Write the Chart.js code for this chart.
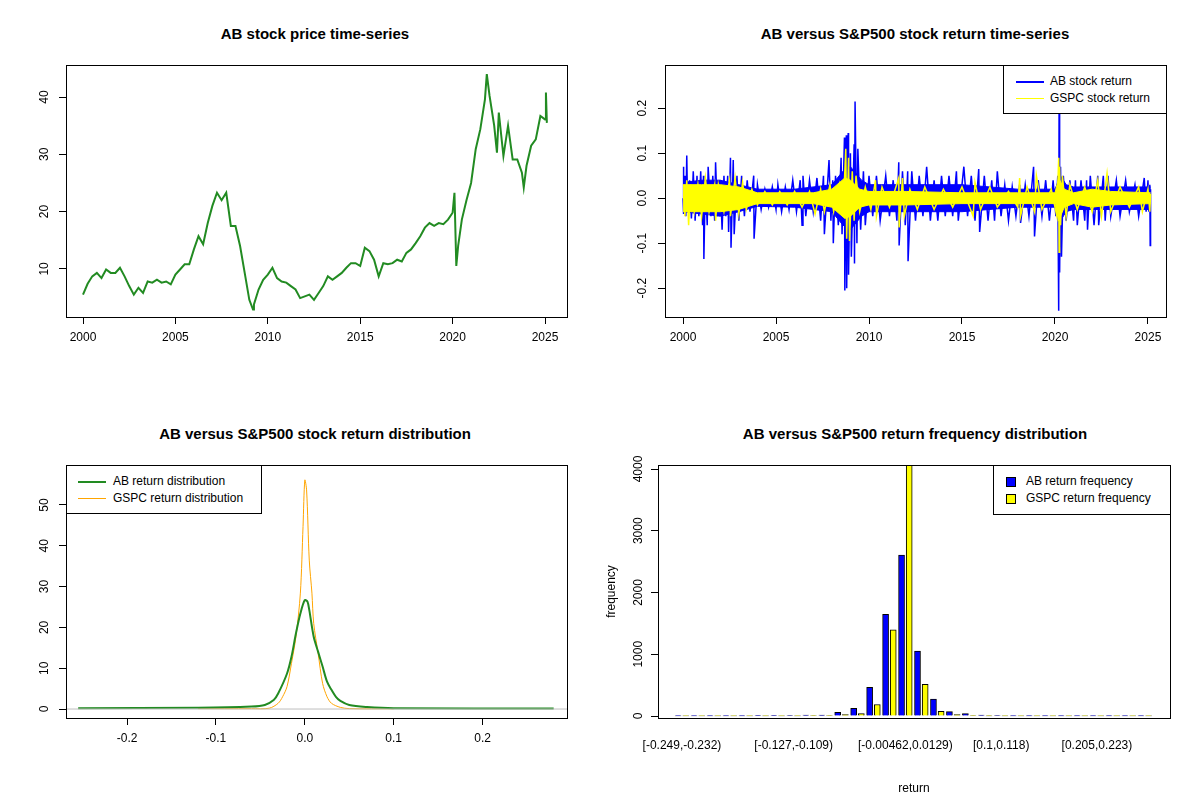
<!DOCTYPE html>
<html>
<head>
<meta charset="utf-8">
<script src="https://cdn.jsdelivr.net/npm/chart.js@4"></script>
<style>
  body { margin: 0; width: 1200px; height: 800px; background: #fff; position: relative; overflow: hidden;
         font-family: 'Liberation Sans', Arial, sans-serif; }
  canvas { position: absolute; }
  .title { position: absolute; font-weight: bold; font-size: 15px; text-align: center; width: 600px; }
  .legend { position: absolute; border: 1px solid #000; background: #fff; font-size: 12px; box-sizing: border-box; }
  .legend div { position: absolute; white-space: nowrap; }
  .sw { position: absolute; }
</style>
</head>
<body>
<div class="title" style="left:15px;top:25px">AB stock price time-series</div>
<div class="title" style="left:615px;top:25px">AB versus S&amp;P500 stock return time-series</div>
<div class="title" style="left:15px;top:425px">AB versus S&amp;P500 stock return distribution</div>
<div class="title" style="left:615px;top:425px">AB versus S&amp;P500 return frequency distribution</div>

<canvas id="c1" style="left:0;top:45px" width="600" height="320"></canvas>
<canvas id="c2" style="left:600px;top:45px" width="600" height="320"></canvas>
<canvas id="c3" style="left:0;top:445px" width="600" height="320"></canvas>
<canvas id="c4" style="left:600px;top:445px" width="600" height="355"></canvas>

<div class="legend" style="left:1003px;top:65px;width:164px;height:49px">
  <span class="sw" style="left:12px;top:15px;width:28px;height:2px;background:#0000ff"></span>
  <div style="left:46px;top:8px">AB stock return</div>
  <span class="sw" style="left:12px;top:32px;width:28px;height:1px;background:#ffff00"></span>
  <div style="left:46px;top:25px">GSPC stock return</div>
</div>
<div class="legend" style="left:66px;top:465px;width:196px;height:49px">
  <span class="sw" style="left:11px;top:15px;width:28px;height:2px;background:#228b22"></span>
  <div style="left:46px;top:8px">AB return distribution</div>
  <span class="sw" style="left:11px;top:32px;width:28px;height:1px;background:#ffa500"></span>
  <div style="left:46px;top:25px">GSPC return distribution</div>
</div>
<div class="legend" style="left:993px;top:465px;width:178px;height:50px">
  <span class="sw" style="left:12px;top:11px;width:8px;height:8px;background:#0000ff;border:1px solid #000"></span>
  <div style="left:32px;top:8px">AB return frequency</div>
  <span class="sw" style="left:12px;top:28px;width:8px;height:8px;background:#ffff00;border:1px solid #000"></span>
  <div style="left:32px;top:25px">GSPC return frequency</div>
</div>

<script>
'use strict';

// ─── Datos ────────────────────────────────────────────────────────────────────

const priceYears = [2000,2000.25,2000.5,2000.75,2001,2001.25,2001.5,2001.75,2002,2002.25,2002.5,2002.75,
  2003,2003.25,2003.5,2003.75,2004,2004.25,2004.5,2004.75,2005,2005.25,2005.5,2005.75,2006,2006.25,2006.5,
  2006.75,2007,2007.25,2007.5,2007.75,2008,2008.25,2008.5,2008.75,2009,2009.2,2009.25,2009.5,2009.75,2010,
  2010.25,2010.5,2010.75,2011,2011.25,2011.5,2011.75,2012,2012.25,2012.5,2012.75,2013,2013.25,2013.5,2013.75,
  2014,2014.25,2014.5,2014.75,2015,2015.25,2015.5,2015.75,2016,2016.25,2016.5,2016.75,2017,2017.25,2017.5,
  2017.75,2018,2018.25,2018.5,2018.75,2019,2019.25,2019.5,2019.75,2020,2020.1,2020.2,2020.3,2020.5,2020.75,
  2021,2021.25,2021.5,2021.75,2021.85,2022,2022.25,2022.4,2022.5,2022.75,2023,2023.25,2023.5,2023.75,
  2023.85,2024,2024.25,2024.5,2024.75,2025,2025.05,2025.1];
const priceValues = [5.5,7.4,8.7,9.3,8.4,9.9,9.3,9.3,10.2,8.7,7.0,5.5,
  6.7,5.8,7.8,7.6,8.1,7.6,7.8,7.3,9.0,9.9,10.8,10.8,13.4,15.7,14.3,
  18.0,21.0,23.3,22.0,23.3,17.5,17.5,14.0,9.3,4.6,2.9,3.8,6.4,8.1,9.0,
  10.2,8.4,7.8,7.6,7.0,6.4,4.9,5.2,5.5,4.6,5.8,7.0,8.7,8.1,8.7,
  9.3,10.2,11.0,11.0,10.5,13.7,13.1,11.6,8.7,11.0,10.8,11.0,11.6,11.3,12.8,
  13.4,14.5,15.7,17.2,18.0,17.5,18.0,17.8,18.6,19.8,23.3,10.5,14.0,18.6,22.0,
  25.0,30.9,34.4,39.6,44.0,40.2,35.0,30.3,37.3,29.7,35.0,29.1,29.1,26.8,
  24.2,28.0,31.5,32.6,36.7,36.1,40.8,35.5];

const abDates = [2000,2000.02,2000.04,2000.1,2000.15,2000.2,2000.25,2000.35,2000.45,2000.55,2000.65,2000.75,
  2000.85,2000.95,2001.05,2001.1,2001.12,2001.2,2001.3,2001.35,2001.5,2001.6,2001.7,2001.75,2001.85,2002,
  2002.1,2002.2,2002.3,2002.4,2002.45,2002.55,2002.58,2002.7,2002.75,2002.9,2003,2003.15,2003.3,2003.45,
  2003.6,2003.8,2003.82,2004,2004.2,2004.4,2004.6,2004.8,2005,2005.1,2005.3,2005.5,2005.7,2005.9,2006.1,
  2006.3,2006.4,2006.45,2006.6,2006.8,2007,2007.2,2007.4,2007.55,2007.6,2007.85,2007.95,2008.05,2008.08,
  2008.2,2008.35,2008.5,2008.55,2008.68,2008.7,2008.78,2008.8,2008.88,2008.9,2009,2009.05,2009.2,2009.22,
  2009.25,2009.35,2009.4,2009.55,2009.7,2009.8,2010,2010.2,2010.4,2010.6,2010.9,2011.1,2011.3,2011.5,
  2011.6,2011.62,2011.8,2011.95,2012.08,2012.1,2012.3,2012.5,2012.7,2012.9,2013.1,2013.3,2013.5,2013.7,
  2013.9,2014.1,2014.3,2014.5,2014.7,2014.8,2015.1,2015.3,2015.5,2015.7,2015.9,2015.95,2016.2,2016.4,
  2016.6,2016.75,2016.9,2017.1,2017.3,2017.5,2017.7,2017.9,2018.1,2018.15,2018.4,2018.6,2018.85,2018.9,
  2019.1,2019.3,2019.5,2019.7,2019.9,2020.05,2020.15,2020.2,2020.22,2020.25,2020.3,2020.35,2020.45,2020.6,
  2020.8,2021,2021.1,2021.2,2021.4,2021.6,2021.7,2021.75,2021.9,2022.1,2022.3,2022.35,2022.6,2022.7,
  2022.85,2023,2023.3,2023.5,2023.8,2024,2024.3,2024.5,2024.8,2024.9,2025,2025.05,2025.1,2025.12,2025.14];
const abReturns = [0,0.07,-0.035,0.05,-0.04,0.095,-0.03,0.04,-0.045,0.06,-0.05,0.05,
  -0.04,0.06,-0.06,0.05,-0.135,0.04,-0.06,0.07,-0.04,0.05,-0.05,0.08,-0.04,0.04,
  -0.07,0.05,-0.04,0.05,-0.075,0.09,-0.11,0.085,-0.08,0.05,-0.05,0.05,-0.04,0.04,
  -0.03,0.05,-0.09,0.03,-0.025,0.02,-0.02,0.025,-0.025,0.03,-0.03,0.025,-0.025,0.04,-0.03,
  0.04,-0.06,0.05,-0.04,0.04,-0.03,0.045,-0.05,0.05,-0.08,0.085,-0.05,0.04,-0.1,
  0.05,-0.06,0.09,-0.08,0.135,-0.205,0.14,-0.2,0.145,-0.17,0.1,-0.13,0.12,-0.145,
  0.215,-0.1,0.11,-0.07,0.06,-0.06,0.05,-0.04,0.05,-0.05,0.05,-0.04,0.04,-0.05,
  0.08,-0.105,0.06,-0.06,0.06,-0.14,0.06,-0.05,0.05,-0.04,0.07,-0.05,0.04,-0.05,
  0.05,-0.04,0.05,-0.04,0.06,-0.05,0.07,-0.04,0.05,-0.05,0.065,-0.075,0.05,-0.05,
  0.04,-0.05,0.06,-0.04,0.03,-0.05,0.025,-0.04,0.03,-0.055,0.03,-0.04,0.07,-0.085,
  0.04,-0.04,0.04,-0.05,0.04,-0.04,0.05,-0.25,0.19,-0.165,0.07,-0.13,0.05,-0.05,
  0.04,-0.05,0.04,-0.06,0.04,-0.05,0.04,-0.07,0.05,-0.06,0.05,-0.06,0.05,-0.05,
  0.05,-0.04,0.04,-0.04,0.04,-0.03,0.03,-0.04,0.045,-0.03,0.04,-0.03,0.03,-0.105,0.02];
// envolvente densa de la banda AB
const abBandDates = [2000,2001,2002,2003,2004,2006,2008,2008.6,2009,2009.6,2010,2012,2015,2018,2020,2020.3,
  2020.6,2021,2023,2025.14];
const abBandUpper = [0.035,0.04,0.04,0.03,0.02,0.02,0.03,0.06,0.07,0.04,0.03,0.03,0.03,0.02,0.02,0.05,
  0.03,0.025,0.025,0.025];
const abBandLower = [-0.03,-0.035,-0.04,-0.03,-0.018,-0.02,-0.03,-0.06,-0.07,-0.04,-0.03,-0.03,-0.03,-0.02,
  -0.02,-0.05,-0.03,-0.025,-0.025,-0.025];

const gspcDates = [2000,2000.05,2000.1,2000.2,2000.3,2000.4,2000.6,2000.8,2001,2001.2,2001.4,2001.7,2001.75,
  2001.9,2002.2,2002.5,2002.55,2002.8,2003,2003.2,2003.4,2003.7,2004,2004.4,2004.8,2005.2,2005.6,2006,
  2006.4,2006.8,2007.1,2007.4,2007.6,2007.9,2008.1,2008.4,2008.6,2008.75,2008.8,2008.9,2008.95,2009.1,
  2009.2,2009.3,2009.5,2009.8,2010.1,2010.35,2010.4,2010.7,2011.1,2011.6,2011.62,2011.8,2011.9,2012.2,
  2012.6,2013,2013.5,2014,2014.5,2015,2015.6,2015.7,2016,2016.5,2016.9,2017.5,2018,2018.1,2018.15,
  2018.5,2018.9,2019,2019.3,2019.8,2020.1,2020.2,2020.22,2020.25,2020.3,2020.4,2020.6,2020.8,2021.2,
  2021.6,2022,2022.3,2022.5,2022.8,2023,2023.5,2024,2024.5,2024.7,2025,2025.1,2025.14];
const gspcReturns = [0,0.03,-0.04,0.04,-0.06,0.03,-0.03,0.03,-0.04,0.045,-0.03,0.03,-0.05,
  0.03,-0.03,0.04,-0.04,0.045,-0.035,0.035,-0.025,0.02,-0.015,0.015,-0.015,0.015,-0.015,0.015,
  -0.02,0.015,-0.035,0.02,-0.03,0.03,-0.03,0.03,-0.04,0.11,-0.09,0.09,-0.095,0.06,
  -0.05,0.05,-0.03,0.025,-0.025,0.04,-0.04,0.025,-0.02,0.045,-0.065,0.045,-0.04,0.02,
  -0.025,0.025,-0.025,0.02,-0.02,0.025,-0.04,0.035,-0.025,0.025,-0.02,0.015,-0.02,0.045,-0.04,
  0.025,-0.03,0.05,-0.025,0.02,-0.04,0.09,-0.12,0.07,-0.06,0.05,-0.04,0.03,-0.025,
  0.025,-0.03,0.04,-0.04,0.055,-0.03,0.025,-0.02,0.025,-0.03,0.02,-0.03,0.01];
const gspcBandDates = [2000,2001,2002,2003,2004,2007,2008,2008.7,2009,2009.5,2010,2012,2015,2018,2020,
  2020.2,2020.5,2021,2022,2023,2025.14];
const gspcBandUpper = [0.03,0.03,0.03,0.025,0.012,0.012,0.02,0.045,0.04,0.02,0.015,0.015,0.012,0.012,0.012,
  0.045,0.02,0.012,0.02,0.015,0.012];
const gspcBandLower = [-0.03,-0.03,-0.03,-0.025,-0.012,-0.012,-0.02,-0.045,-0.04,-0.02,-0.015,-0.015,-0.012,
  -0.012,-0.012,-0.05,-0.02,-0.012,-0.02,-0.015,-0.012];

const densX = [-0.255,-0.12,-0.06,-0.045,-0.035,-0.03,-0.02,-0.015,-0.01,-0.005,0,0.003,0.005,0.01,
  0.015,0.02,0.025,0.03,0.035,0.04,0.05,0.07,0.1,0.28];
const abDensity = [0.2,0.3,0.6,1.0,2.2,3.8,8.7,12.8,18.5,23.4,26.7,26.3,24.3,17.7,
  14.0,10.4,6.7,4.7,3.0,2.0,1.0,0.5,0.2,0.1];
const gspcDensX = [-0.12,-0.06,-0.04,-0.03,-0.025,-0.02,-0.015,-0.01,-0.005,-0.002,0,0.002,0.005,0.008,
  0.01,0.015,0.02,0.025,0.03,0.04,0.05,0.1];
const gspcDensity = [0.1,0.1,0.2,1.4,3.0,5.5,11.2,17.7,28.4,44.7,56.1,53.7,36.5,28.4,
  21.0,13.6,6.3,3.0,1.4,0.4,0.1,0.05];

// 30 intervalos del histograma
const binLabels = ['[-0.249,-0.232)','','','','','','','[-0.127,-0.109)','','','','','','',
  '[-0.00462,0.0129)','','','','','','[0.1,0.118)','','','','','','[0.205,0.223)','','',''];
const abFreq = [2,2,2,2,2,4,5,10,15,15,60,125,464,1648,2608,1053,273,71,38,15,10,2,2,2,2,2,2,2,2,2];
const gspcFreq = [2,2,2,2,2,2,2,2,5,5,22,38,186,1397,4200,513,76,22,5,3,2,2,2,2,2,2,2,2,2,2];

// ─── Helpers ──────────────────────────────────────────────────────────────────

const FONT = "'Liberation Sans', Arial, sans-serif";
Chart.defaults.font.family = FONT;
Chart.defaults.font.size = 12;
Chart.defaults.color = '#000';
Chart.defaults.animation = false;

function pts(xs, ys) { return xs.map(function(x, i) { return { x: x, y: ys[i] }; }); }
function fixedTicks(vals) {
  return function(scale) { scale.ticks = vals.map(function(v) { return { value: v }; }); };
}

// caja + etiquetas y rotadas al estilo R
function rPlugin(yOffset, yFmt) {
  return {
    id: 'rbox',
    afterDraw: function(chart) {
      const a = chart.chartArea, ctx = chart.ctx, y = chart.scales.y;
      ctx.save();
      ctx.strokeStyle = '#000'; ctx.lineWidth = 1;
      ctx.strokeRect(a.left + 0.5, a.top + 0.5, a.right - a.left, a.bottom - a.top);
      ctx.font = '12px ' + FONT; ctx.fillStyle = '#000';
      ctx.textAlign = 'center'; ctx.textBaseline = 'middle';
      y.ticks.forEach(function(t) {
        const py = y.getPixelForValue(t.value);
        ctx.save();
        ctx.translate(a.left - yOffset, py);
        ctx.rotate(-Math.PI / 2);
        ctx.fillText(yFmt(t.value), 0, 0);
        ctx.restore();
      });
      ctx.restore();
    }
  };
}

function axisX(min, max, ticks, fmt, height) {
  return {
    type: 'linear', min: min, max: max,
    afterBuildTicks: fixedTicks(ticks),
    afterFit: function(s) { s.height = height; },
    border: { display: false },
    grid: { drawOnChartArea: false, tickLength: 7, color: '#000' },
    ticks: { padding: 6, maxRotation: 0, autoSkip: false, callback: fmt, font: { size: 12 } },
  };
}
function axisY(min, max, ticks, width) {
  return {
    type: 'linear', min: min, max: max,
    afterBuildTicks: fixedTicks(ticks),
    afterFit: function(s) { s.width = width; },
    border: { display: false },
    grid: { drawOnChartArea: false, tickLength: 7, color: '#000' },
    ticks: { display: false },
  };
}
const baseOptions = {
  responsive: false,
  plugins: { legend: { display: false }, tooltip: { enabled: false }, filler: { drawTime: 'beforeDatasetDraw' } },
  elements: { point: { radius: 0 } },
};

// ─── Graficas ─────────────────────────────────────────────────────────────────

new Chart(document.getElementById('c1'), {
  type: 'line',
  data: { datasets: [{ data: pts(priceYears, priceValues), borderColor: '#228b22', borderWidth: 2, tension: 0 }] },
  options: Object.assign({}, baseOptions, {
    layout: { padding: { top: 20, right: 33 } },
    scales: {
      x: axisX(1999.08, 2026.19, [2000,2005,2010,2015,2020,2025], function(v) { return String(v); }, 48),
      y: axisY(1.6, 45.6, [10,20,30,40], 66),
    },
  }),
  plugins: [rPlugin(21, function(v) { return String(v); })],
});

// el dataset 0 se dibuja encima: amarillo primero
new Chart(document.getElementById('c2'), {
  type: 'line',
  data: { datasets: [
    { data: pts(gspcDates, gspcReturns), borderColor: '#ffff00', borderWidth: 1.5, tension: 0 },
    { data: pts(gspcBandDates, gspcBandUpper), borderColor: '#ffff00', borderWidth: 1, backgroundColor: '#ffff00', fill: '+1' },
    { data: pts(gspcBandDates, gspcBandLower), borderColor: '#ffff00', borderWidth: 1 },
    { data: pts(abDates, abReturns), borderColor: '#0000ff', borderWidth: 1.5, tension: 0 },
    { data: pts(abBandDates, abBandUpper), borderColor: '#0000ff', borderWidth: 1, backgroundColor: '#0000ff', fill: '+1' },
    { data: pts(abBandDates, abBandLower), borderColor: '#0000ff', borderWidth: 1 },
  ] },
  options: Object.assign({}, baseOptions, {
    layout: { padding: { top: 20, right: 34 } },
    scales: {
      x: axisX(1999.03, 2025.97, [2000,2005,2010,2015,2020,2025], function(v) { return String(v); }, 48),
      y: axisY(-0.264, 0.296, [-0.2,-0.1,0,0.1,0.2], 65),
    },
  }),
  plugins: [rPlugin(22, function(v) { return v.toFixed(1); })],
});

new Chart(document.getElementById('c3'), {
  type: 'line',
  data: { datasets: [
    { data: [{ x: -0.27, y: 0 }, { x: 0.3, y: 0 }], borderColor: '#bebebe', borderWidth: 1 },
    { data: pts(densX, abDensity), borderColor: '#228b22', borderWidth: 2, tension: 0.3 },
    { data: pts(gspcDensX, gspcDensity), borderColor: '#ffa500', borderWidth: 1, tension: 0.3 },
  ] },
  options: Object.assign({}, baseOptions, {
    layout: { padding: { top: 20, right: 33 } },
    scales: {
      x: axisX(-0.2687, 0.295, [-0.2,-0.1,0,0.1,0.2], function(v) { return v.toFixed(1); }, 47),
      y: axisY(-2.2, 59.8, [0,10,20,30,40,50], 66),
    },
  }),
  plugins: [rPlugin(21, function(v) { return String(v); })],
});

const binIdx = binLabels.map(function(_, i) { return i; });
new Chart(document.getElementById('c4'), {
  type: 'bar',
  data: { datasets: [
    { data: pts(binIdx.map(function(i) { return i - 0.24; }), abFreq), backgroundColor: '#0000ff',
      borderColor: '#000', borderWidth: 1, barThickness: 6 },
    { data: pts(binIdx.map(function(i) { return i + 0.24; }), gspcFreq), backgroundColor: '#ffff00',
      borderColor: '#000', borderWidth: 1, barThickness: 6 },
  ] },
  options: Object.assign({}, baseOptions, {
    grouped: false,
    layout: { padding: { top: 20, right: 30 } },
    scales: {
      x: {
        type: 'linear', min: -1.5, max: 30.58, offset: false,
        afterBuildTicks: fixedTicks([0, 7, 14, 20, 26]),
        afterFit: function(s) { s.height = 82; },
        border: { display: false }, grid: { display: false },
        ticks: { padding: 12, maxRotation: 0, autoSkip: false,
                 callback: function(v) { return binLabels[v]; } },
        title: { display: true, text: 'return', padding: { top: 14 } },
      },
      y: Object.assign(axisY(-32, 4065, [0,1000,2000,3000,4000], 58), {
        title: { display: true, text: 'frequency', padding: { bottom: 20 } },
      }),
    },
  }),
  plugins: [rPlugin(19, function(v) { return String(v); })],
});
</script>
</body>
</html>
